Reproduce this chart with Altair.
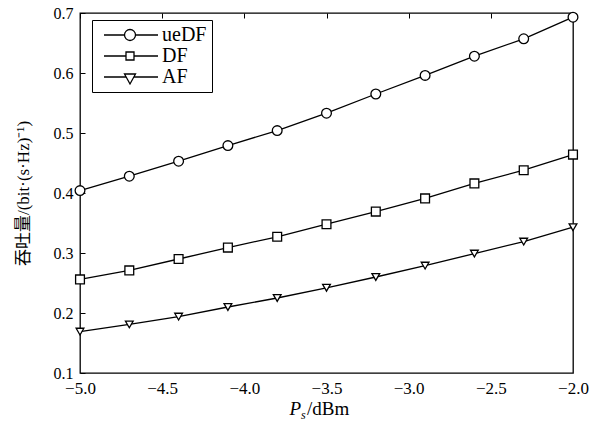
import altair as alt
import pandas as pd

# ---- data ----
x_vals = [-5.0, -4.7, -4.4, -4.1, -3.8, -3.5, -3.2, -2.9, -2.6, -2.3, -2.0]
uedf_vals = [0.404, 0.428, 0.453, 0.479, 0.504, 0.533, 0.565, 0.596, 0.628, 0.657, 0.693]
df_vals = [0.256, 0.271, 0.290, 0.309, 0.327, 0.348, 0.369, 0.391, 0.416, 0.438, 0.464]
af_vals = [0.169, 0.181, 0.194, 0.210, 0.225, 0.242, 0.260, 0.279, 0.299, 0.319, 0.343]
series_names = ["ueDF", "DF", "AF"]
x_ticks = [-5.0, -4.5, -4.0, -3.5, -3.0, -2.5, -2.0]
y_ticks = [0.1, 0.2, 0.3, 0.4, 0.5, 0.6, 0.7]

rows = []
for name, vals in zip(series_names, [uedf_vals, df_vals, af_vals]):
    for xv, yv in zip(x_vals, vals):
        rows.append({"x": xv, "y": yv, "series": name})
data = pd.DataFrame(rows)

SERIF = "Liberation Serif, Times New Roman, Noto Sans CJK SC, serif"

x_enc = alt.X("x:Q", scale=alt.Scale(domain=[-5.0, -2.0], nice=False, zero=False),
              axis=alt.Axis(values=x_ticks, format=".1f", title=None, domain=False,
                            ticks=False, grid=True, gridColor="black", gridDash=[5, 1000],
                            gridWidth=1, labelFont=SERIF, labelFontSize=17,
                            labelColor="black", labelPadding=7, labelFlush=False))
y_enc = alt.Y("y:Q", scale=alt.Scale(domain=[0.1, 0.7], nice=False, zero=False),
              axis=alt.Axis(values=y_ticks, format=".1f", title="吞吐量/(bit·(s·Hz)⁻¹)",
                            domain=False, ticks=False, grid=True, gridColor="black",
                            gridDash=[5, 1000], gridWidth=1, labelFont=SERIF,
                            labelFontSize=16, labelColor="black", labelPadding=7,
                            labelFlush=False,
                            titleFont=SERIF, titleFontSize=17, titleFontWeight="normal",
                            titleColor="black", titleX=-57, titleY=180,
                            titleAlign="center", titleBaseline="middle", titleAngle=270))

base = alt.Chart(data)

lines = base.mark_line(color="black", strokeWidth=1.3).encode(
    x=x_enc, y=y_enc, detail="series:N")

points = base.mark_point(filled=True, fill="white", stroke="black", strokeWidth=1.3,
                         opacity=1).encode(
    x="x:Q", y="y:Q",
    shape=alt.Shape("series:N", scale=alt.Scale(domain=series_names,
                    range=["circle", "square", "triangle-down"]), legend=None),
    size=alt.Size("series:N", scale=alt.Scale(domain=series_names, range=[95, 60, 80]),
                  legend=None),
)

legend_paths = [
    "M-0.6,0H3.5M5.7,0H10.2M3.5,0A1.1,1.1 0 1,0 5.7,0A1.1,1.1 0 1,0 3.5,0Z",
    "M-0.6,0H3.8M5.4,0H10.2M3.8,-0.8H5.4V0.8H3.8Z",
    "M-0.6,0H3.8M5.4,0H10.2M3.5,-0.6H5.7L4.6,1.4Z",
]

legend_layer = base.mark_point(
    filled=False, color="black", strokeWidth=1.3, size=100, opacity=0).encode(
    x="x:Q", y="y:Q",
    shape=alt.Shape("series:N",
                    scale=alt.Scale(domain=series_names, range=legend_paths),
                    legend=alt.Legend(
                        title=None, orient="none", legendX=12, legendY=7,
                        padding=5, fillColor="white", strokeColor="black",
                        symbolSize=100, symbolFillColor="white",
                        symbolStrokeColor="black", symbolStrokeWidth=1.3,
                        symbolOpacity=1, labelFont=SERIF, labelFontSize=20,
                        labelColor="black", labelOffset=45, rowPadding=1,
                        labelLimit=200)),
)

t_p = alt.Chart(pd.DataFrame({"t": ["P"]})).mark_text(
    font=SERIF, fontSize=19, fontStyle="italic", align="right", baseline="alphabetic",
    color="black").encode(text="t:N", x=alt.value(221), y=alt.value(402))
t_s = alt.Chart(pd.DataFrame({"t": ["s"]})).mark_text(
    font=SERIF, fontSize=12, fontStyle="italic", align="left", baseline="alphabetic",
    color="black").encode(text="t:N", x=alt.value(221), y=alt.value(406))
t_u = alt.Chart(pd.DataFrame({"t": ["/dBm"]})).mark_text(
    font=SERIF, fontSize=19, align="left", baseline="alphabetic",
    color="black").encode(text="t:N", x=alt.value(227), y=alt.value(402))

chart = alt.layer(lines, points, legend_layer, t_p, t_s, t_u).resolve_scale(
    shape="independent", size="independent"
).properties(
    width=493, height=360,
    autosize=alt.AutoSizeParams(type="none"),
    padding={"left": 80, "top": 13, "right": 26, "bottom": 49},
    background="white",
).configure_view(stroke="black", strokeWidth=1.3)

chart.save("out.html", embed_options={"renderer": "svg", "actions": False})
